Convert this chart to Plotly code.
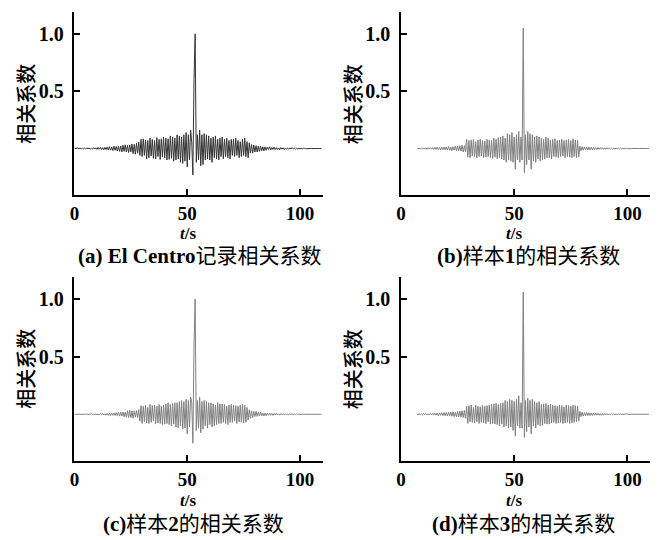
import plotly.graph_objects as go

# ---------------- data ----------------
t = [i * 0.5 for i in range(220)]  # time grid, s

corr_el_centro = [
    0.0, 0.002, -0.002, 0.003, -0.002, 0.004, -0.003, 0.002, -0.002, 0.003,
    -0.004, 0.006, -0.003, 0.005, -0.006, 0.004, -0.005, 0.007, -0.004, 0.006,
    -0.008, 0.01, -0.006, 0.012, -0.01, 0.008, -0.012, 0.01, -0.009, 0.014,
    -0.012, 0.016, -0.014, 0.012, -0.018, 0.02, -0.015, 0.018, -0.022, 0.02,
    -0.025, 0.022, -0.03, 0.028, -0.024, 0.032, -0.03, 0.026, -0.035, 0.03,
    -0.03, 0.04, -0.045, 0.035, -0.05, 0.045, -0.04, 0.055, -0.06, 0.08,
    -0.07, 0.085, -0.06, 0.075, -0.09, 0.07, -0.08, 0.09, -0.065, 0.08,
    -0.085, 0.07, -0.09, 0.095, -0.07, 0.08, -0.095, 0.085, -0.075, 0.1,
    -0.08, 0.09, -0.1, 0.085, -0.095, 0.11, -0.085, 0.1, -0.11, 0.09,
    -0.1, 0.12, -0.09, 0.11, -0.12, 0.1, -0.13, 0.12, -0.11, 0.14,
    -0.16, 0.12, -0.1, 0.16, 0.05, -0.23, 0.6, 1.0, -0.12, 0.12,
    -0.1, 0.16, -0.15, 0.12, -0.14, 0.13, -0.1, 0.12, -0.09, 0.11,
    -0.1, 0.09, -0.12, 0.1, -0.08, 0.11, -0.09, 0.08, -0.1, 0.09,
    -0.07, 0.1, -0.09, 0.08, -0.07, 0.09, -0.08, 0.07, -0.09, 0.08,
    -0.06, 0.08, -0.07, 0.09, -0.06, 0.07, -0.08, 0.06, -0.07, 0.08,
    -0.06, 0.09, -0.07, 0.06, -0.08, 0.05, -0.04, 0.035, -0.04, 0.03,
    -0.03, 0.025, -0.03, 0.02, -0.025, 0.02, -0.02, 0.015, -0.02, 0.015,
    -0.015, 0.012, -0.01, 0.015, -0.012, 0.01, -0.008, 0.012, -0.01, 0.008,
    -0.008, 0.006, -0.01, 0.008, -0.005, 0.006, -0.008, 0.005, -0.006, 0.004,
    -0.005, 0.006, -0.004, 0.008, -0.003, 0.004, -0.006, 0.003, -0.004, 0.002,
    -0.003, 0.002, -0.002, 0.003, -0.001, 0.002, -0.002, 0.001, 0.0, 0.001,
    0.0, 0.001, -0.001, 0.0, 0.001, 0.0, 0.0, 0.0, 0.0, 0.0,
]

corr_sample1 = [
    None, None, None, None, None, None, None, None, None, None,
    None, None, None, None, 0.003, -0.004, 0.005, -0.003, 0.004, -0.005,
    0.006, -0.004, 0.005, -0.007, 0.006, -0.005, 0.008, -0.006, 0.007, -0.008,
    0.01, -0.008, 0.012, -0.01, 0.009, -0.012, 0.011, -0.01, 0.013, -0.012,
    0.014, -0.012, 0.016, -0.015, 0.013, -0.018, 0.016, -0.014, 0.02, -0.018,
    0.022, -0.02, 0.025, -0.022, 0.028, -0.03, 0.025, -0.03, 0.08, -0.075,
    0.07, -0.08, 0.075, -0.065, 0.08, -0.07, 0.06, -0.08, 0.075, -0.07,
    0.08, -0.065, 0.07, -0.08, 0.065, -0.075, 0.08, -0.07, 0.075, -0.08,
    0.07, -0.085, 0.09, -0.075, 0.08, -0.09, 0.095, -0.08, 0.1, -0.09,
    0.11, -0.1, 0.09, -0.12, 0.13, -0.1, 0.12, -0.11, 0.14, -0.12,
    0.1, -0.18, 0.12, -0.1, 0.15, -0.12, 0.1, -0.1, 1.05, -0.21,
    0.12, -0.14, 0.15, -0.1, 0.13, -0.18, 0.12, -0.11, 0.1, -0.12,
    0.11, -0.09, 0.1, -0.11, 0.09, -0.1, 0.08, -0.09, 0.1, -0.08,
    0.09, -0.08, 0.075, -0.09, 0.08, -0.07, 0.085, -0.075, 0.07, -0.08,
    0.075, -0.07, 0.08, -0.065, 0.07, -0.08, 0.075, -0.07, 0.08, -0.075,
    0.07, -0.08, 0.085, -0.07, 0.075, -0.08, 0.07, -0.075, 0.02, -0.018,
    0.016, -0.015, 0.014, -0.012, 0.015, -0.013, 0.012, -0.01, 0.011, -0.012,
    0.01, -0.009, 0.008, -0.01, 0.009, -0.007, 0.008, -0.006, 0.007, -0.008,
    0.006, -0.005, 0.007, -0.004, 0.005, -0.006, 0.004, -0.005, 0.003, -0.004,
    0.004, -0.003, 0.005, -0.002, 0.003, -0.004, 0.002, -0.003, 0.002, -0.002,
    0.002, -0.001, 0.001, -0.002, 0.001, 0.0, 0.001, -0.001, 0.0, 0.0,
    0.0, 0.001, 0.0, -0.001, 0.0, 0.0, 0.0, 0.0, 0.0, 0.0,
]

corr_sample2 = [
    0.0, 0.001, -0.001, 0.002, -0.001, 0.001, -0.002, 0.001, 0.0, 0.001,
    -0.001, 0.002, -0.002, 0.001, -0.002, 0.003, -0.002, 0.002, -0.003, 0.004,
    -0.005, 0.004, -0.006, 0.005, -0.004, 0.007, -0.006, 0.005, -0.008, 0.007,
    -0.01, 0.008, -0.012, 0.01, -0.009, 0.012, -0.011, 0.014, -0.012, 0.015,
    -0.016, 0.018, -0.015, 0.02, -0.022, 0.018, -0.025, 0.03, -0.028, 0.035,
    -0.03, 0.028, -0.035, 0.03, -0.025, 0.032, -0.03, 0.04, -0.06, 0.075,
    -0.08, 0.07, -0.065, 0.08, -0.075, 0.06, -0.08, 0.085, -0.07, 0.075,
    -0.06, 0.08, -0.085, 0.07, -0.075, 0.085, -0.08, 0.07, -0.09, 0.08,
    -0.085, 0.09, -0.08, 0.1, -0.09, 0.085, -0.1, 0.095, -0.085, 0.1,
    -0.11, 0.1, -0.12, 0.11, -0.1, 0.12, -0.13, 0.11, -0.12, 0.13,
    -0.17, 0.12, -0.11, 0.15, 0.1, -0.25, 0.6, 1.0, -0.14, 0.12,
    -0.12, 0.15, -0.16, 0.11, -0.13, 0.12, -0.1, 0.11, -0.12, 0.1,
    -0.09, 0.1, -0.11, 0.09, -0.1, 0.08, -0.09, 0.1, -0.08, 0.09,
    -0.08, 0.09, -0.07, 0.085, -0.08, 0.07, -0.09, 0.08, -0.07, 0.085,
    -0.07, 0.08, -0.06, 0.075, -0.08, 0.07, -0.065, 0.08, -0.07, 0.09,
    -0.075, 0.08, -0.07, 0.06, -0.05, 0.04, -0.035, 0.03, -0.03, 0.025,
    -0.02, 0.025, -0.018, 0.02, -0.015, 0.018, -0.014, 0.012, -0.015, 0.01,
    -0.012, 0.01, -0.008, 0.011, -0.009, 0.007, -0.01, 0.008, -0.006, 0.009,
    -0.007, 0.005, -0.008, 0.006, -0.004, 0.006, -0.005, 0.004, -0.006, 0.003,
    -0.004, 0.005, -0.003, 0.004, -0.005, 0.002, -0.003, 0.004, -0.002, 0.003,
    -0.002, 0.001, -0.002, 0.001, 0.0, 0.001, -0.001, 0.0, 0.0, 0.001,
    0.0, 0.0, -0.001, 0.0, 0.0, 0.0, 0.0, 0.0, 0.0, 0.0,
]

corr_sample3 = [
    None, None, None, None, None, None, None, None, None, None,
    None, None, None, None, 0.002, -0.003, 0.004, -0.002, 0.003, -0.004,
    0.005, -0.004, 0.006, -0.005, 0.004, -0.006, 0.007, -0.005, 0.008, -0.007,
    0.009, -0.008, 0.01, -0.012, 0.011, -0.009, 0.012, -0.011, 0.014, -0.013,
    0.015, -0.014, 0.018, -0.016, 0.02, -0.017, 0.022, -0.02, 0.018, -0.022,
    0.025, -0.022, 0.028, -0.025, 0.03, -0.028, 0.032, -0.035, 0.07, -0.08,
    0.075, -0.065, 0.08, -0.07, 0.06, -0.075, 0.08, -0.065, 0.07, -0.08,
    0.065, -0.07, 0.08, -0.075, 0.07, -0.08, 0.075, -0.065, 0.08, -0.085,
    0.085, -0.08, 0.09, -0.085, 0.095, -0.09, 0.085, -0.1, 0.095, -0.085,
    0.1, -0.11, 0.12, -0.1, 0.11, -0.12, 0.13, -0.11, 0.12, -0.14,
    0.11, -0.19, 0.13, -0.1, 0.16, -0.12, 0.1, -0.12, 1.06, -0.2,
    0.12, -0.15, 0.14, -0.11, 0.12, -0.17, 0.13, -0.1, 0.11, -0.12,
    0.1, -0.09, 0.11, -0.1, 0.085, -0.095, 0.09, -0.08, 0.095, -0.085,
    0.08, -0.085, 0.09, -0.075, 0.08, -0.07, 0.075, -0.08, 0.07, -0.075,
    0.08, -0.07, 0.075, -0.08, 0.065, -0.075, 0.08, -0.07, 0.075, -0.08,
    0.07, -0.075, 0.08, -0.07, 0.075, -0.065, 0.07, -0.06, 0.025, -0.02,
    0.018, -0.016, 0.015, -0.014, 0.016, -0.012, 0.013, -0.011, 0.012, -0.01,
    0.011, -0.009, 0.01, -0.008, 0.009, -0.008, 0.007, -0.009, 0.006, -0.007,
    0.007, -0.005, 0.006, -0.006, 0.004, -0.005, 0.005, -0.004, 0.004, -0.003,
    0.003, -0.004, 0.004, -0.002, 0.003, -0.003, 0.002, -0.002, 0.003, -0.001,
    0.002, -0.001, 0.001, -0.002, 0.001, 0.0, 0.0, -0.001, 0.0, 0.0,
    0.0, 0.001, 0.0, 0.0, -0.001, 0.0, 0.0, 0.0, 0.0, 0.0,
]

x_tickvals = [0, 50, 100]
x_ticktext = ["0", "50", "100"]
y_tickvals = [0.5, 1.0]
y_ticktext = ["0.5", "1.0"]

captions = [
    "<b>(a) El Centro</b>记录相关系数",
    "<b>(b)</b>样本<b>1</b>的相关系数",
    "<b>(c)</b>样本<b>2</b>的相关系数",
    "<b>(d)</b>样本<b>3</b>的相关系数",
]
y_title = "相关系数"
x_title = "<b><i>t</i>/s</b>"

series = [corr_el_centro, corr_sample1, corr_sample2, corr_sample3]
line_colors = ["#333333", "#808080", "#808080", "#808080"]

# ---------------- layout geometry (pixels) ----------------
W, H = 659, 540
panels = [  # x0, x1, ytop, ybottom of plot area
    (70, 320, 12, 195),
    (399, 650, 12, 195),
    (70, 320, 277, 461),
    (399, 650, 277, 461),
]
ytitle_pos = [(20, 104), (350, 104), (20, 369), (350, 369)]
xtitle_pos = [(184, 233), (513, 233), (184, 500), (513, 500)]
caption_pos = [(196, 256), (527, 256), (190, 524), (522, 524)]

SERIF = "Liberation Serif, Noto Sans CJK SC"
CJK = "Noto Sans CJK SC"

fig = go.Figure()
layout = dict(
    width=W, height=H, margin=dict(l=0, r=0, t=0, b=0),
    paper_bgcolor="white", plot_bgcolor="white", showlegend=False,
)
annotations = []
for i, (vals, col) in enumerate(zip(series, line_colors)):
    n = "" if i == 0 else str(i + 1)
    fig.add_trace(go.Scatter(
        x=t, y=vals, mode="lines", line=dict(color=col, width=1),
        xaxis="x" + n, yaxis="y" + n, connectgaps=False, hoverinfo="skip",
    ))
    x0, x1, yt, yb = panels[i]
    layout["xaxis" + n] = dict(
        domain=[x0 / W, x1 / W], range=[0, 110], anchor="y" + n,
        showline=True, linecolor="black", linewidth=1.5, mirror=False,
        ticks="inside", ticklen=6, tickwidth=1.5, tickcolor="black",
        tickvals=x_tickvals, ticktext=x_ticktext, showgrid=False, zeroline=False,
        tickfont=dict(family="Liberation Serif", size=19, color="black", weight="bold"),
        ticklabelstandoff=0,
    )
    layout["yaxis" + n] = dict(
        domain=[1 - yb / H, 1 - yt / H], range=[-0.405, 1.19], anchor="x" + n,
        showline=True, linecolor="black", linewidth=1.5, mirror=False,
        ticks="inside", ticklen=6, tickwidth=1.5, tickcolor="black",
        tickvals=y_tickvals, ticktext=y_ticktext, showgrid=False, zeroline=False,
        tickfont=dict(family="Liberation Serif", size=20, color="black", weight="bold"),
        ticklabelstandoff=5,
    )
    yx, yy = ytitle_pos[i]
    annotations.append(dict(
        x=yx / W, y=1 - yy / H, xref="paper", yref="paper", text=y_title,
        showarrow=False, textangle=-90, xanchor="center", yanchor="middle",
        font=dict(family=CJK, size=20, color="black", weight=500),
    ))
    tx, ty = xtitle_pos[i]
    annotations.append(dict(
        x=tx / W, y=1 - ty / H, xref="paper", yref="paper", text=x_title,
        showarrow=False, xanchor="center", yanchor="middle",
        font=dict(family="Liberation Serif", size=17, color="black"),
    ))
    cx, cy = caption_pos[i]
    annotations.append(dict(
        x=cx / W, y=1 - cy / H, xref="paper", yref="paper", text=captions[i],
        showarrow=False, xanchor="center", yanchor="middle",
        font=dict(family=SERIF, size=21, color="black"),
    ))

layout["annotations"] = annotations
fig.update_layout(**layout)
fig.write_html("out.html")
